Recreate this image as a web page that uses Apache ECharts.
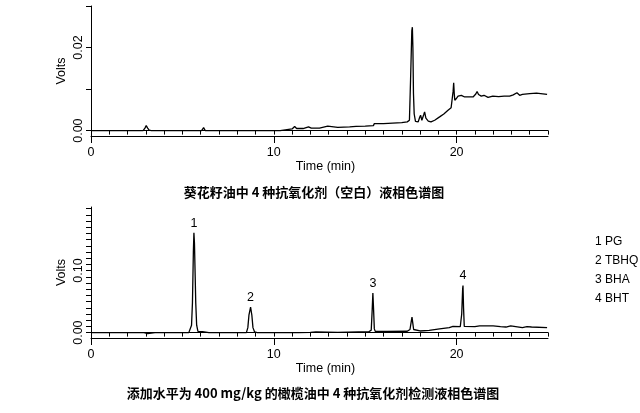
<!DOCTYPE html>
<html>
<head>
<meta charset="utf-8">
<script src="https://cdn.jsdelivr.net/npm/echarts@6/dist/echarts.min.js"></script>
<style>
html,body{margin:0;padding:0;background:#fff;}
#chart{width:640px;height:413px;}
</style>
</head>
<body>
<div id="chart"></div>
<script>
// ---- Data (time in min, signal in Volts) ----
var topTitle = '葵花籽油中 4 种抗氧化剂（空白）液相色谱图';
var bottomTitle = '添加水平为 400 mg/kg 的橄榄油中 4 种抗氧化剂检测液相色谱图';
var xTickLabels = [0, 10, 20];
var topYLabels = [0, 0.02];
var bottomYLabels = [0, 0.10];

var topTime = [0, 1.5, 2.85, 2.95, 3.02, 3.10, 3.18, 3.3, 4.0, 6.05, 6.16, 6.25, 10.35, 10.4, 11.0, 11.14, 11.25, 11.6, 11.9, 12.05, 12.5, 12.95, 13.05, 13.5, 14.15, 14.5, 15.0, 15.45, 15.5, 16.0, 16.5, 17.0, 17.3, 17.42, 17.48, 17.55, 17.58, 17.61, 17.64, 17.68, 17.75, 17.9, 17.98, 18.03, 18.1, 18.2, 18.25, 18.32, 18.45, 18.6, 18.8, 19.07, 19.3, 19.53, 19.7, 19.77, 19.81, 19.84, 19.87, 19.9, 20.0, 20.08, 20.26, 20.44, 20.9, 21.05, 21.12, 21.2, 21.35, 21.5, 21.72, 21.98, 22.3, 22.6, 22.9, 23.1, 23.3, 23.45, 23.6, 24.0, 24.37, 24.95];
var topVolts = [0, 0, 0, 0.0006, 0.0012, 0.0006, 0.0001, 0, 0, 0, 0.0007, 0, 0, 0.0004, 0.0004, 0.0010, 0.0005, 0.0005, 0.0009, 0.0006, 0.0006, 0.0011, 0.0007, 0.0008, 0.0009, 0.0010, 0.0011, 0.0012, 0.0017, 0.0017, 0.0018, 0.0019, 0.0021, 0.0025, 0.0120, 0.0240, 0.0249, 0.0198, 0.0090, 0.0040, 0.0022, 0.0021, 0.0032, 0.0037, 0.0025, 0.0038, 0.0045, 0.0030, 0.0023, 0.0021, 0.0025, 0.0033, 0.0040, 0.0049, 0.0055, 0.0057, 0.0095, 0.0115, 0.0090, 0.0073, 0.0078, 0.0083, 0.0085, 0.0081, 0.0081, 0.0088, 0.0094, 0.0087, 0.0083, 0.0085, 0.0080, 0.0083, 0.0082, 0.0083, 0.0083, 0.0086, 0.0091, 0.0085, 0.0087, 0.0089, 0.0090, 0.0087];

var bottomTime = [0, 2.9, 3.0, 3.1, 3.2, 3.5, 3.6, 3.7, 5.35, 5.45, 5.5, 5.55, 5.6, 5.63, 5.66, 5.7, 5.73, 5.78, 5.85, 5.95, 6.1, 6.2, 6.45, 6.52, 6.6, 8.5, 8.58, 8.64, 8.73, 8.8, 8.86, 8.95, 9.1, 10.0, 10.05, 10.15, 11.2, 11.25, 11.35, 12.0, 12.3, 13.5, 13.6, 15.2, 15.33, 15.38, 15.42, 15.46, 15.5, 15.55, 16.2, 17.3, 17.45, 17.52, 17.56, 17.6, 17.65, 17.75, 18.0, 18.5, 19.07, 19.6, 19.8, 19.9, 20.2, 20.28, 20.33, 20.35, 20.38, 20.42, 20.5, 21.0, 21.26, 21.45, 22.0, 22.4, 22.7, 22.96, 23.05, 23.6, 23.85, 23.95, 24.1, 24.2, 24.95];
var bottomVolts = [0, 0, 0.0015, -0.0015, 0, 0, 0.0015, 0, 0, 0.003, 0.012, 0.048, 0.130, 0.161, 0.144, 0.090, 0.048, 0.012, 0.002, 0, 0.0015, 0, 0, 0.0015, 0, 0, 0.008, 0.028, 0.041, 0.028, 0.008, 0.001, 0, 0, 0.0012, 0, 0, 0.0012, 0, 0.0005, 0.001, 0.0005, 0.0015, 0.0015, 0.004, 0.035, 0.064, 0.036, 0.006, 0.002, 0.002, 0.0022, 0.005, 0.018, 0.025, 0.016, 0.005, 0.002, 0.0026, 0.0035, 0.006, 0.008, 0.010, 0.0095, 0.0095, 0.030, 0.070, 0.076, 0.040, 0.010, 0.009, 0.0095, 0.0107, 0.011, 0.011, 0.0095, 0.009, 0.011, 0.009, 0.008, 0.0095, 0.008, 0.009, 0.008, 0.008];

var peakLabels = ['1', '2', '3', '4'];
var peakTimes = [5.63, 8.73, 15.42, 20.35];
var legendLabels = ['1 PG', '2 TBHQ', '3 BHA', '4 BHT'];

// ---- Build ----
function zip(a, b) { return a.map(function (t, i) { return [t, b[i]]; }); }
function valueAt(t) {
  var i = bottomTime.indexOf(t);
  return bottomVolts[i];
}
var FONT = 'Liberation Sans, Arial, sans-serif';
var black = '#000';

function steps(a, b, s) { var r = []; for (var v = a; v <= b + 1e-9; v += s) r.push(+v.toFixed(4)); return r; }

function minorX(gi) {
  return {
    gridIndex: gi, type: 'value', min: 0, max: 25, interval: 1, position: 'bottom',
    axisLine: { show: true, lineStyle: { color: black, width: 1 } },
    axisTick: { show: true, length: 4, lineStyle: { color: black } },
    axisLabel: { show: false },
    splitLine: { show: false }
  };
}
function majorX(gi) {
  return {
    gridIndex: gi, type: 'value', min: 0, max: 25, position: 'bottom',
    axisLine: { show: true, lineStyle: { color: black, width: 1 } },
    axisTick: { show: true, length: 7, customValues: xTickLabels, lineStyle: { color: black } },
    axisLabel: { show: true, customValues: xTickLabels, color: black, fontFamily: FONT, fontSize: 12.5, margin: 10 },
    splitLine: { show: false },
    name: 'Time (min)', nameLocation: 'middle', nameGap: 24, nameMoveOverlap: false,
    nameTextStyle: { color: black, fontFamily: FONT, fontSize: 12.5, padding: [0, 0, 0, 12] }
  };
}
function yAx(gi, min, max, ticks, labels) {
  return {
    gridIndex: gi, type: 'value', min: min, max: max,
    axisLine: { show: true, lineStyle: { color: black, width: 1 } },
    axisTick: { show: true, length: 5, customValues: ticks, lineStyle: { color: black } },
    axisLabel: { show: true, customValues: labels, rotate: 90, margin: 6, color: black, fontFamily: FONT, fontSize: 12.5,
      formatter: function (v) { return v.toFixed(2); } },
    splitLine: { show: false },
    name: 'Volts', nameLocation: 'middle', nameGap: 23, nameRotate: 90, nameMoveOverlap: false,
    nameTextStyle: { color: black, fontFamily: FONT, fontSize: 12.5 }
  };
}

var chart = echarts.init(document.getElementById('chart'), null, { renderer: 'canvas' });
var option = {
  animation: false,
  backgroundColor: '#fff',
  title: [
    { text: topTitle, left: 309, top: 181, textAlign: 'center',
      textStyle: { fontFamily: 'Noto Sans CJK SC', fontWeight: 'bold', fontSize: 13, color: black } },
    { text: bottomTitle, left: 308, top: 382, textAlign: 'center',
      textStyle: { fontFamily: 'Noto Sans CJK SC', fontWeight: 'bold', fontSize: 13, color: black } }
  ],
  grid: [
    { left: 91, top: 6, width: 457, height: 130 },
    { left: 91, top: 207, width: 457, height: 131 }
  ],
  xAxis: [minorX(0), majorX(0), minorX(1), majorX(1)],
  yAxis: [
    yAx(0, -0.0013, 0.03, steps(0, 0.03, 0.01), topYLabels),
    yAx(1, -0.0087, 0.2025, steps(0, 0.2, 0.01), bottomYLabels)
  ],
  series: [
    { type: 'line', xAxisIndex: 0, yAxisIndex: 0, data: zip(topTime, topVolts), showSymbol: false, symbol: 'none',
      lineStyle: { color: black, width: 1.3 }, clip: false },
    { type: 'line', xAxisIndex: 2, yAxisIndex: 1, data: zip(bottomTime, bottomVolts), showSymbol: false, symbol: 'none',
      lineStyle: { color: black, width: 1.3 }, clip: false,
      markPoint: {
        symbol: 'circle', symbolSize: 0, silent: true,
        label: { show: true, position: 'top', distance: 3, color: black, fontFamily: FONT, fontSize: 12.5,
          formatter: function (p) { return p.name; } },
        data: peakLabels.map(function (n, i) { return { name: n, coord: [peakTimes[i], valueAt(peakTimes[i])] }; })
      }
    }
  ],
  graphic: legendLabels.map(function (s, i) {
    return { type: 'text', left: 595, top: 236 + i * 18.8,
      style: { text: s, fill: black, font: '12px ' + FONT } };
  })
};
chart.setOption(option);
</script>
</body>
</html>
